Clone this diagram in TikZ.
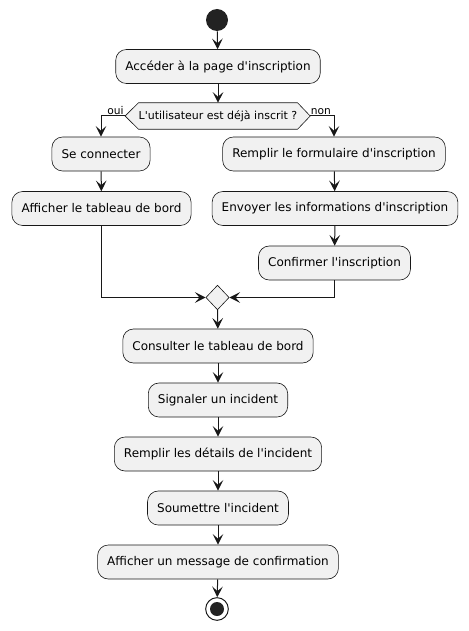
\documentclass[tikz,border=0pt]{standalone}
\usepackage{fontspec}
\newfontfamily\umlfont{DejaVu Sans}
\definecolor{umlline}{HTML}{181818}
\definecolor{umlfill}{HTML}{F1F1F1}
\definecolor{umldot}{HTML}{222222}
\usetikzlibrary{arrows.meta,positioning,shapes.geometric,calc}

\begin{document}
\begin{tikzpicture}[
  x=0.75pt, y=-0.75pt,
  actbox/.style={
    rectangle, rounded corners=8pt,
    minimum height=25.5pt, inner xsep=7.2pt,
    draw=umlline, line width=0.45pt,
    fill=umlfill,
    font=\umlfont\fontsize{9}{11}\selectfont,
    text=black
  },
  mergebox/.style={diamond, draw=umlline, line width=0.45pt, fill=umlfill,
    minimum width=17.5pt, minimum height=18.5pt, inner sep=0pt},
  asktext/.style={font=\umlfont\fontsize{8.25}{10}\selectfont},
  lbl/.style={font=\umlfont\fontsize{8}{10}\selectfont, inner sep=1pt},
  conn/.style={-{Stealth[length=8pt, width=8pt, inset=3.5pt]}, line width=0.75pt, draw=umlline}
]
\useasboundingbox (0,0) rectangle (468,631);

\node[circle, fill=umldot, minimum size=16.5pt, inner sep=0pt] (start) at (217,20) {};
\node[actbox] (access) at (218,66.5) {Accéder à la page d'inscription};

% decision
\node[asktext, minimum height=19.5pt, inner xsep=0pt] (ask) at (218,116) {L'utilisateur est déjà inscrit ?};
\draw[draw=umlline, line width=0.45pt, fill=umlfill]
  (ask.north west) -- (ask.north east) -- ([xshift=9.5pt]ask.east) -- (ask.south east)
  -- (ask.south west) -- ([xshift=-10pt]ask.west) -- cycle;
\node[asktext] at (ask) {L'utilisateur est déjà inscrit ?};
\coordinate (askL) at ([xshift=-10pt]ask.west);
\coordinate (askR) at ([xshift=9.5pt]ask.east);

\node[actbox] (login)   at (101,154)   {Se connecter};
\node[actbox] (board)   at (101.5,208.5) {Afficher le tableau de bord};
\node[actbox] (fill)    at (334,154)   {Remplir le formulaire d'inscription};
\node[actbox] (send)    at (335,208.5) {Envoyer les informations d'inscription};
\node[actbox] (confirm) at (334.5,263)   {Confirmer l'inscription};

\node[mergebox] (merge) at (217.5,297.5) {};

\node[actbox] (consult) at (218,346) {Consulter le tableau de bord};
\node[actbox] (report)  at (218,400) {Signaler un incident};
\node[actbox] (details) at (218,454) {Remplir les détails de l'incident};
\node[actbox] (submit)  at (218,508) {Soumettre l'incident};
\node[actbox] (message) at (218,562) {Afficher un message de confirmation};

\node[circle, draw=umlline, line width=0.75pt, fill=white, minimum size=17pt, inner sep=0pt] (stop) at (217,609) {};
\node[circle, fill=umldot, minimum size=10.5pt, inner sep=0pt] (stopdot) at (stop) {};

\draw[conn] (start) -- (access);
\draw[conn] (access) -- (ask.north);
\draw[conn] (askL) -- node[lbl, above, pos=0.4] {oui} (askL -| login) -- (login);
\draw[conn] (askR) -- node[lbl, above, pos=0.45] {non} (askR -| fill) -- (fill);
\draw[conn] (login) -- (board);
\draw[conn] (fill) -- (send);
\draw[conn] (send) -- (confirm);
\draw[conn] (board.south) |- (merge.west);
\draw[conn] (confirm.south) |- (merge.east);
\draw[conn] (merge) -- (consult);
\draw[conn] (consult) -- (report);
\draw[conn] (report) -- (details);
\draw[conn] (details) -- (submit);
\draw[conn] (submit) -- (message);
\draw[conn] (message) -- (stop);
\end{tikzpicture}
\end{document}
